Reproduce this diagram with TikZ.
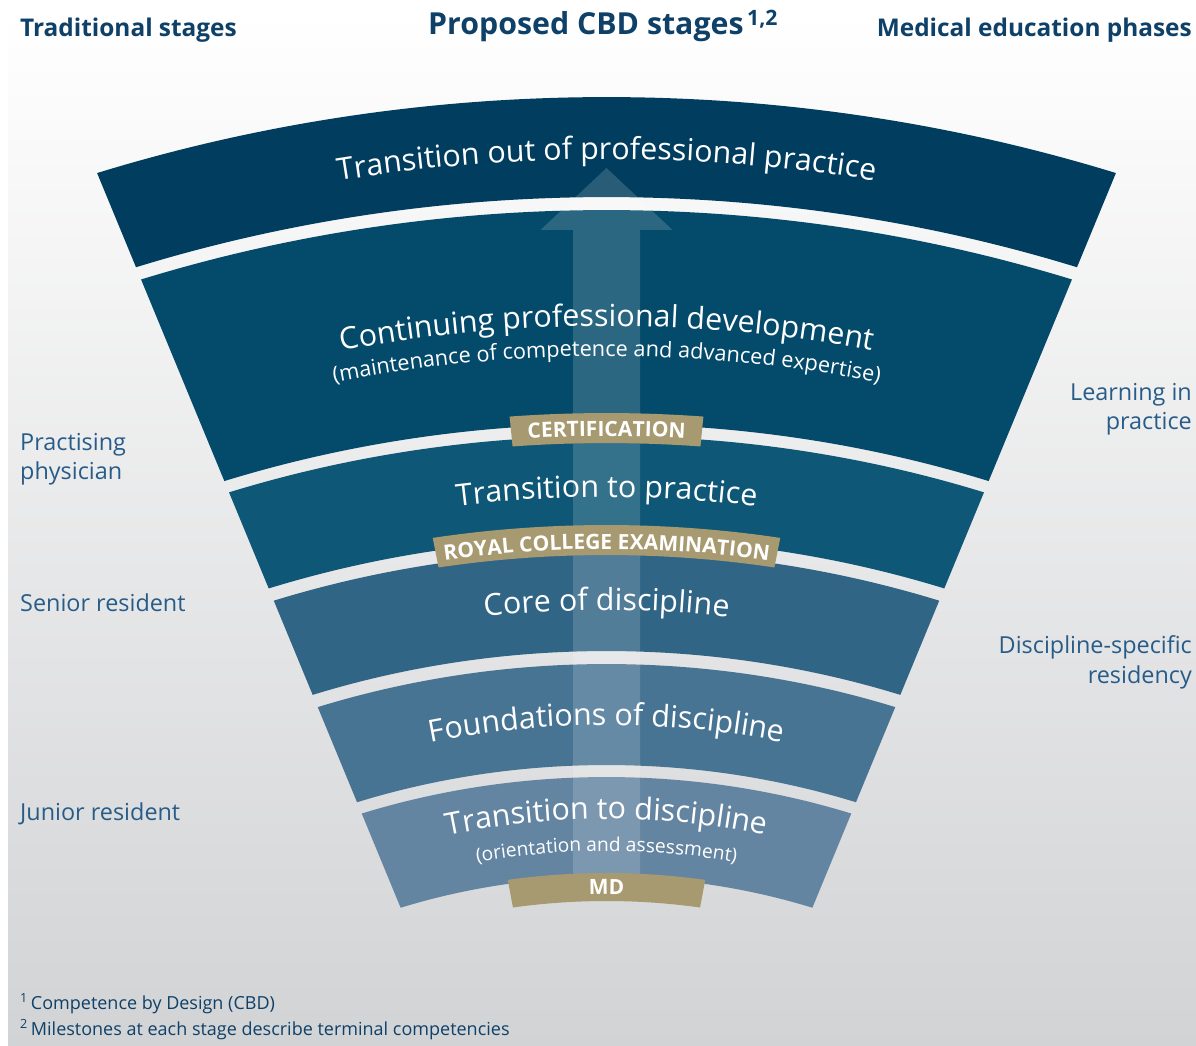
\documentclass[tikz,border=0pt]{standalone}
\usepackage{fontspec}
\setmainfont{Open Sans}
\usetikzlibrary{decorations.text}

\definecolor{bandA}{RGB}{0,61,94}
\definecolor{bandB}{RGB}{4,74,107}
\definecolor{bandC}{RGB}{14,87,119}
\definecolor{bandD}{RGB}{48,101,134}
\definecolor{bandE}{RGB}{72,116,148}
\definecolor{bandF}{RGB}{99,133,161}
\definecolor{gold}{RGB}{168,154,112}
\definecolor{headblue}{RGB}{14,64,104}
\definecolor{sideblue}{RGB}{40,92,136}
\definecolor{bgbottom}{RGB}{210,211,213}

% fonts for the curved texts
\newcommand{\stagefont}{\fontsize{30.4}{31}\selectfont}
\newcommand{\notefont}{\fontsize{21.7}{22}\selectfont}
\newcommand{\tinynote}{\fontsize{19.2}{20}\selectfont}
\newcommand{\tagfont}{\bfseries\fontsize{21}{21}\selectfont}

% elliptic arc (x stretched by 1.159) running left to right at radius #1
\newcommand{\stagearc}[1]{(109.62:{1.159*#1} and #1) arc[start angle=109.62, end angle=70.38, x radius={1.159*#1}, y radius=#1]}

\begin{document}
\begin{tikzpicture}[
        x=1pt, y=1pt,
        heading/.style={inner sep=0pt, text=headblue, font=\bfseries\fontsize{24.4}{25}\selectfont},
        sidelabel/.style={inner sep=0pt, text=sideblue, font=\fontsize{23.4}{29.5}\selectfont},
        along/.style={decorate, decoration={text along path, text align=center, text color=white, text={#1}}}
    ]
    \useasboundingbox (0,0) rectangle (1196,1045);

    % background
    \shade[top color=white, bottom color=bgbottom] (8,0) rectangle (1196,1032);

    % headings
    \node[heading, anchor=base west] (traditional) at (20,1008) {Traditional stages};
    \node[heading, anchor=base west, font=\bfseries\fontsize{30.3}{31}\selectfont] (proposed) at (428,1010) {Proposed CBD stages\textsuperscript{\,1,2}};
    \node[heading, anchor=base east] (phases) at (1192,1008) {Medical education phases};

    % stages of the fan
    \begin{scope}[shift={(606.5,-361)}]
        \foreach \ro/\ri/\col in {1309/1209/bandA, 1196/982/bandB, 970/868/bandC,
                                  855/755/bandD, 742/641/bandE, 629/529/bandF}
            \fill[\col] (70.38:{1.159*\ro} and \ro)
                arc[start angle=70.38, end angle=109.62, x radius={1.159*\ro}, y radius=\ro]
                -- (109.62:{1.159*\ri} and \ri)
                arc[start angle=109.62, end angle=70.38, x radius={1.159*\ri}, y radius=\ri]
                -- cycle;
    \end{scope}

    % progression arrow
    \fill[white, fill opacity=0.16] (573,168) -- (573,815) -- (540.5,815) -- (606.5,877)
        -- (672.5,815) -- (640,815) -- (640,168) -- cycle;

    \begin{scope}[shift={(606.5,-361)}]
        % milestones
        \foreach \ro/\ri/\da in {993/963/4.83, 881/851/9.8, 533/505/9.2}
            \fill[gold] ({90-\da}:{1.159*\ro} and \ro)
                arc[start angle={90-\da}, end angle={90+\da}, x radius={1.159*\ro}, y radius=\ro]
                -- ({90+\da}:{1.159*\ri} and \ri)
                arc[start angle={90+\da}, end angle={90-\da}, x radius={1.159*\ri}, y radius=\ri]
                -- cycle;

        \path[along={|\stagefont|Transition out of professional practice}] \stagearc{1247};
        \path[along={|\stagefont|Continuing professional development}] \stagearc{1080};
        \path[along={|\notefont|(maintenance of competence and advanced expertise)}] \stagearc{1050};
        \path[along={|\stagefont|Transition to practice}] \stagearc{909};
        \path[along={|\stagefont|Core of discipline}] \stagearc{796};
        \path[along={|\stagefont|Foundations of discipline}] \stagearc{681};
        \path[along={|\stagefont|Transition to discipline}] \stagearc{587};
        \path[along={|\tinynote|(orientation and assessment)}] \stagearc{555};

        \path[along={|\tagfont|CERTIFICATION}] \stagearc{970};
        \path[along={|\tagfont|ROYAL COLLEGE EXAMINATION}] \stagearc{857};
        \path[along={|\tagfont|MD}] \stagearc{512};
    \end{scope}

    % traditional stages (base is the last line)
    \node[sidelabel, anchor=base west, align=left] (practising) at (20,565) {Practising\\physician};
    \node[sidelabel, anchor=base west] (senior) at (20,433) {Senior resident};
    \node[sidelabel, anchor=base west] (junior) at (20,225) {Junior resident};

    % education phases
    \node[sidelabel, anchor=base east, align=right] (learning) at (1192,615) {Learning in\\practice};
    \node[sidelabel, anchor=base east, align=right] (residency) at (1192,362) {Discipline-specific\\residency};

    % footnotes
    \node[inner sep=0pt, text=headblue, anchor=base west, align=left,
          font=\fontsize{18}{26}\selectfont] (notes) at (20,10)
        {\textsuperscript{1}\,Competence by Design (CBD)\\
         \textsuperscript{2}\,Milestones at each stage describe terminal competencies};
\end{tikzpicture}
\end{document}
